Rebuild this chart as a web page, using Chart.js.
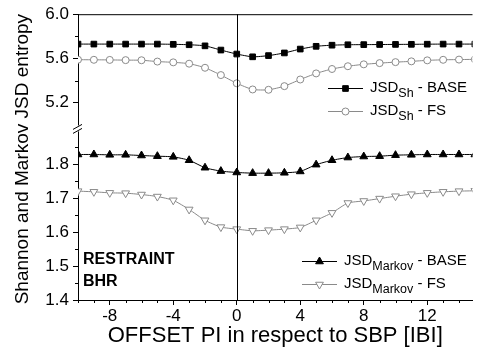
<!DOCTYPE html>
<html>
<head>
<meta charset="utf-8">
<script src="https://cdn.jsdelivr.net/npm/chart.js@4.4.0/dist/chart.umd.min.js"></script>
<style>
  html, body { margin: 0; padding: 0; background: #fff; }
  #wrap { width: 478px; height: 352px; }
</style>
</head>
<body>
<div id="wrap"><canvas id="myChart" width="478" height="352"></canvas></div>
<script>
// offsets (in IBI) and the four curves
const offsets = [-10, -9, -8, -7, -6, -5, -4, -3, -2, -1, 0, 1, 2, 3, 4, 5, 6, 7, 8, 9, 10, 11, 12, 13, 14, 15];
const shBase = [5.73, 5.73, 5.73, 5.73, 5.73, 5.73, 5.728, 5.724, 5.714, 5.676, 5.64, 5.615, 5.626, 5.65, 5.685, 5.71, 5.72, 5.724, 5.725, 5.726, 5.727, 5.728, 5.729, 5.73, 5.73, 5.73];
const shFs = [5.589, 5.588, 5.587, 5.585, 5.584, 5.572, 5.565, 5.553, 5.516, 5.45, 5.376, 5.32, 5.317, 5.35, 5.41, 5.465, 5.505, 5.53, 5.547, 5.558, 5.567, 5.574, 5.583, 5.588, 5.59, 5.592];
const markovBase = [1.829, 1.829, 1.828, 1.828, 1.826, 1.824, 1.822, 1.812, 1.79, 1.78, 1.776, 1.774, 1.774, 1.775, 1.779, 1.799, 1.812, 1.82, 1.823, 1.824, 1.827, 1.828, 1.829, 1.829, 1.829, 1.829];
const markovFs = [1.721, 1.719, 1.716, 1.715, 1.711, 1.705, 1.694, 1.667, 1.635, 1.615, 1.609, 1.604, 1.606, 1.609, 1.614, 1.635, 1.657, 1.686, 1.692, 1.699, 1.706, 1.712, 1.716, 1.719, 1.721, 1.722];

// tick labels
const xTicks = [-8, -4, 0, 4, 8, 12];
const shTicks = [5.2, 5.6, 6.0];
const shMinor = [5.4, 5.8];
const markovTicks = [1.4, 1.5, 1.6, 1.7, 1.8];
const markovMinor = [1.45, 1.55, 1.65, 1.75, 1.85];

const FONT = '"Liberation Sans", Arial, sans-serif';
const GREY = '#8a8a8a';

function pts(arr) {
    return offsets.map((o, i) => ({ x: o, y: arr[i] }));
}

// draws the extra bits: minor ticks, zero line, axis break, legends, labels
const extras = {
    id: 'extras',
    afterDraw(chart) {
        const ctx = chart.ctx;
        const a = chart.chartArea;
        const sx = chart.scales.x, sy = chart.scales.y, sy2 = chart.scales.y2;
        ctx.save();
        ctx.strokeStyle = '#000';
        ctx.lineWidth = 1;
        ctx.beginPath();
        // top frame
        ctx.moveTo(a.left, a.top + 0.5);
        ctx.lineTo(a.right, a.top + 0.5);
        // zero line
        const z = Math.round(sx.getPixelForValue(0)) + 0.5;
        ctx.moveTo(z, a.top);
        ctx.lineTo(z, a.bottom);
        // minor x ticks
        for (let v = Math.ceil(sx.min); v <= sx.max; v++) {
            if (xTicks.includes(v)) continue;
            const px = Math.round(sx.getPixelForValue(v)) + 0.5;
            ctx.moveTo(px, a.bottom);
            ctx.lineTo(px, a.bottom + 3);
        }
        markovMinor.forEach(v => {
            const py = Math.round(sy.getPixelForValue(v)) + 0.5;
            ctx.moveTo(a.left - 3, py);
            ctx.lineTo(a.left, py);
        });
        shMinor.forEach(v => {
            const py = Math.round(sy2.getPixelForValue(v)) + 0.5;
            ctx.moveTo(a.left - 3, py);
            ctx.lineTo(a.left, py);
        });
        ctx.stroke();

        // axis break
        const by = sy.top - 2;
        ctx.fillStyle = '#fff';
        ctx.fillRect(a.left - 6, by - 3, 12, 6);
        ctx.beginPath();
        ctx.moveTo(a.left - 5, by + 1);
        ctx.lineTo(a.left + 4, by - 4);
        ctx.moveTo(a.left - 5, by + 5);
        ctx.lineTo(a.left + 4, by);
        ctx.stroke();

        // legends
        const items = [
            { x: 328, y: 88, ds: 0, main: 'JSD', sub: 'Sh', tail: ' - BASE' },
            { x: 328, y: 111, ds: 1, main: 'JSD', sub: 'Sh', tail: ' - FS' },
            { x: 302, y: 261, ds: 2, main: 'JSD', sub: 'Markov', tail: ' - BASE' },
            { x: 302, y: 284, ds: 3, main: 'JSD', sub: 'Markov', tail: ' - FS' }
        ];
        items.forEach(it => {
            const d = chart.data.datasets[it.ds];
            ctx.strokeStyle = d.borderColor;
            ctx.lineWidth = 1;
            ctx.beginPath();
            ctx.moveTo(it.x, it.y + 0.5);
            ctx.lineTo(it.x + 35, it.y + 0.5);
            ctx.stroke();
            ctx.fillStyle = d.pointBackgroundColor;
            ctx.strokeStyle = d.pointBorderColor;
            ctx.lineWidth = d.pointBorderWidth;
            Chart.helpers.drawPoint(ctx, {
                pointStyle: d.pointStyle, radius: d.pointRadius,
                rotation: d.pointRotation || 0, borderWidth: d.pointBorderWidth
            }, it.x + 17.5, it.y + 0.5);
            ctx.fillStyle = '#000';
            ctx.textBaseline = 'middle';
            ctx.textAlign = 'left';
            let tx = it.x + 42;
            ctx.font = '15px ' + FONT;
            ctx.fillText(it.main, tx, it.y);
            tx += ctx.measureText(it.main).width;
            ctx.font = '12.5px ' + FONT;
            ctx.fillText(it.sub, tx, it.y + 6);
            tx += ctx.measureText(it.sub).width;
            ctx.font = '15px ' + FONT;
            ctx.fillText(it.tail, tx, it.y);
        });

        // panel label
        ctx.font = 'bold 16px ' + FONT;
        ctx.fillText('RESTRAINT', a.left + 5, 260);
        ctx.fillText('BHR', a.left + 5, 282);

        // y title across both axis parts
        ctx.translate(23, (a.top + a.bottom) / 2 + 2);
        ctx.rotate(-Math.PI / 2);
        ctx.textAlign = 'center';
        ctx.font = '19px ' + FONT;
        ctx.fillText('Shannon and Markov JSD entropy', 0, 0);
        ctx.restore();
    }
};

const tickFont = { family: FONT, size: 17 };

let ctx = document.getElementById('myChart').getContext('2d');
let myChart = new Chart(ctx, {
    type: 'line',
    data: {
        datasets: [
            {
                label: 'JSD Sh - BASE', data: pts(shBase), yAxisID: 'y2',
                borderColor: '#000', borderWidth: 1,
                pointStyle: 'rect', pointRadius: 4, pointBackgroundColor: '#000',
                pointBorderColor: '#000', pointBorderWidth: 1
            },
            {
                label: 'JSD Sh - FS', data: pts(shFs), yAxisID: 'y2',
                borderColor: GREY, borderWidth: 1,
                pointStyle: 'circle', pointRadius: 3.5, pointBackgroundColor: '#fff',
                pointBorderColor: GREY, pointBorderWidth: 1
            },
            {
                label: 'JSD Markov - BASE', data: pts(markovBase), yAxisID: 'y',
                borderColor: '#000', borderWidth: 1,
                pointStyle: 'triangle', pointRadius: 4.5, pointBackgroundColor: '#000',
                pointBorderColor: '#000', pointBorderWidth: 1
            },
            {
                label: 'JSD Markov - FS', data: pts(markovFs), yAxisID: 'y',
                borderColor: GREY, borderWidth: 1,
                pointStyle: 'triangle', pointRotation: 180, pointRadius: 4.5,
                pointBackgroundColor: '#fff', pointBorderColor: GREY, pointBorderWidth: 1
            }
        ]
    },
    options: {
        responsive: false,
        animation: false,
        layout: { padding: { top: 14, left: 0, right: 0, bottom: 0 } },
        elements: { line: { tension: 0.2 } },
        plugins: { legend: { display: false }, tooltip: { enabled: false } },
        scales: {
            x: {
                type: 'linear', min: -10, max: 14.85,
                afterBuildTicks: s => { s.ticks = xTicks.map(v => ({ value: v })); },
                afterFit: s => { s.height = 52; },
                grid: { drawOnChartArea: false, tickLength: 5, color: '#000' },
                border: { color: '#000', width: 1 },
                ticks: { font: tickFont, color: '#000', padding: 1, maxRotation: 0 },
                title: {
                    display: true, text: 'OFFSET PI in respect to SBP [IBI]',
                    color: '#000', font: { family: FONT, size: 22 }, padding: { top: 0, bottom: 3 }
                }
            },
            y: {
                type: 'linear', min: 1.4, max: 1.9, stack: 'left', stackWeight: 170,
                afterBuildTicks: s => { s.ticks = markovTicks.map(v => ({ value: v })); },
                afterFit: s => { s.width = 78; },
                grid: { drawOnChartArea: false, tickLength: 5, color: '#000' },
                border: { color: '#000', width: 1 },
                ticks: { font: tickFont, color: '#000', padding: 4, callback: v => v.toFixed(1) }
            },
            y2: {
                type: 'linear', min: 4.95, max: 6.0, stack: 'left', stackWeight: 116.5,
                afterBuildTicks: s => { s.ticks = shTicks.map(v => ({ value: v })); },
                afterFit: s => { s.width = 78; },
                grid: { drawOnChartArea: false, tickLength: 5, color: '#000' },
                border: { color: '#000', width: 1 },
                ticks: { font: tickFont, color: '#000', padding: 4, callback: v => v.toFixed(1) }
            }
        }
    },
    plugins: [extras]
});
</script>
</body>
</html>
